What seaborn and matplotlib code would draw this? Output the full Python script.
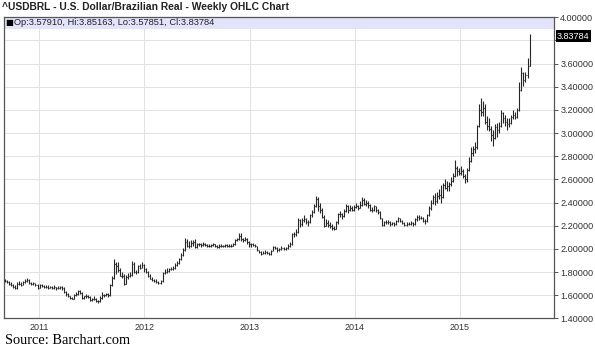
import matplotlib
matplotlib.use("Agg")
import matplotlib.pyplot as plt
import matplotlib.dates as mdates
import matplotlib.transforms as mtransforms
import pandas as pd
import seaborn as sns

# Weekly USD/BRL bars, one entry per week starting 2010-09-06
open_prices = [
    # 2010
    1.735, 1.720, 1.715, 1.700, 1.690, 1.675, 1.660, 1.700, 1.700, 1.690, 1.715, 1.725, 1.735, 1.705, 1.695, 1.705, 1.690,
    # 2011
    1.665, 1.690, 1.680, 1.675, 1.670, 1.665, 1.670, 1.665, 1.670, 1.660, 1.665, 1.670, 1.660,
    1.630, 1.610, 1.590, 1.575, 1.570, 1.600, 1.615, 1.635, 1.620, 1.580, 1.590, 1.595, 1.585,
    1.560, 1.565, 1.570, 1.555, 1.550, 1.575, 1.605, 1.600, 1.610, 1.600, 1.690, 1.750, 1.870,
    1.850, 1.820, 1.770, 1.765, 1.700, 1.760, 1.770, 1.775, 1.870, 1.800, 1.800, 1.850, 1.840,
    # 2012
    1.865, 1.830, 1.800, 1.770, 1.745, 1.735, 1.720, 1.715, 1.710, 1.720, 1.790, 1.800, 1.810,
    1.825, 1.830, 1.835, 1.860, 1.880, 1.910, 1.950, 1.990, 2.060, 2.030, 2.030, 2.050, 2.060,
    2.020, 2.040, 2.040, 2.035, 2.045, 2.035, 2.030, 2.030, 2.035, 2.040, 2.025, 2.020, 2.030,
    2.030, 2.025, 2.035, 2.030, 2.030, 2.030, 2.040, 2.075, 2.085, 2.110, 2.085, 2.075, 2.090, 2.060,
    # 2013
    2.040, 2.040, 2.035, 2.025, 1.990, 1.975, 1.960, 1.965, 1.975, 1.965, 1.955, 1.985,
    2.015, 2.010, 1.990, 2.000, 2.010, 2.000, 2.005, 2.025, 2.040, 2.130, 2.130, 2.150, 2.250,
    2.220, 2.250, 2.260, 2.235, 2.230, 2.290, 2.320, 2.370, 2.430, 2.370, 2.340, 2.280, 2.200, 2.225,
    2.205, 2.200, 2.185, 2.175, 2.230, 2.300, 2.300, 2.285, 2.330, 2.370, 2.340, 2.350, 2.340,
    # 2014
    2.360, 2.370, 2.355, 2.380, 2.420, 2.390, 2.400, 2.380, 2.340, 2.340, 2.370, 2.340, 2.320,
    2.265, 2.210, 2.235, 2.235, 2.230, 2.215, 2.225, 2.215, 2.240, 2.265, 2.240, 2.225, 2.205,
    2.215, 2.220, 2.225, 2.215, 2.255, 2.280, 2.265, 2.270, 2.240, 2.240, 2.290, 2.350, 2.400,
    2.450, 2.410, 2.460, 2.470, 2.450, 2.550, 2.530, 2.540, 2.560, 2.590, 2.630, 2.700, 2.670,
    # 2015
    2.660, 2.670, 2.630, 2.600, 2.680, 2.760, 2.830, 2.860, 2.880, 3.060, 3.200, 3.180, 3.220,
    3.100, 3.060, 3.040, 2.980, 2.960, 3.050, 3.030, 3.060, 3.170, 3.130, 3.100, 3.080, 3.090,
    3.140, 3.160, 3.140, 3.200, 3.370, 3.520, 3.460, 3.500, 3.57910,
]
high_prices = [
    # 2010
    1.745, 1.735, 1.722, 1.712, 1.695, 1.690, 1.712, 1.722, 1.715, 1.725, 1.738, 1.748, 1.742, 1.712, 1.718, 1.710, 1.698,
    # 2011
    1.698, 1.702, 1.688, 1.690, 1.685, 1.682, 1.680, 1.685, 1.675, 1.680, 1.682, 1.678, 1.668,
    1.638, 1.622, 1.598, 1.588, 1.612, 1.625, 1.645, 1.642, 1.625, 1.598, 1.608, 1.602, 1.590,
    1.575, 1.592, 1.575, 1.562, 1.592, 1.625, 1.612, 1.622, 1.618, 1.700, 1.765, 1.915, 1.885,
    1.888, 1.840, 1.805, 1.780, 1.775, 1.795, 1.800, 1.895, 1.885, 1.815, 1.865, 1.870, 1.885,
    # 2012
    1.870, 1.838, 1.808, 1.780, 1.755, 1.745, 1.738, 1.722, 1.735, 1.800, 1.825, 1.835, 1.840,
    1.845, 1.850, 1.875, 1.900, 1.925, 1.965, 2.010, 2.095, 2.090, 2.065, 2.075, 2.080, 2.085,
    2.050, 2.055, 2.050, 2.060, 2.055, 2.045, 2.040, 2.045, 2.050, 2.045, 2.035, 2.040, 2.040,
    2.038, 2.045, 2.040, 2.040, 2.040, 2.055, 2.085, 2.095, 2.140, 2.135, 2.095, 2.100, 2.095, 2.070,
    # 2013
    2.055, 2.050, 2.045, 2.030, 1.995, 1.985, 1.985, 1.990, 1.985, 1.975, 1.995, 2.025,
    2.030, 2.015, 2.010, 2.025, 2.015, 2.020, 2.040, 2.060, 2.140, 2.150, 2.170, 2.270, 2.260,
    2.265, 2.290, 2.270, 2.250, 2.300, 2.340, 2.390, 2.455, 2.445, 2.400, 2.350, 2.290, 2.260, 2.250,
    2.230, 2.215, 2.200, 2.245, 2.315, 2.330, 2.315, 2.345, 2.385, 2.380, 2.380, 2.375, 2.380,
    # 2014
    2.395, 2.380, 2.410, 2.445, 2.440, 2.420, 2.410, 2.390, 2.360, 2.380, 2.375, 2.345, 2.330,
    2.270, 2.245, 2.250, 2.250, 2.240, 2.235, 2.230, 2.250, 2.275, 2.270, 2.250, 2.235, 2.230,
    2.235, 2.240, 2.235, 2.265, 2.295, 2.290, 2.285, 2.280, 2.255, 2.300, 2.370, 2.420, 2.470,
    2.480, 2.490, 2.520, 2.550, 2.570, 2.600, 2.590, 2.580, 2.620, 2.660, 2.770, 2.720, 2.700,
    # 2015
    2.720, 2.690, 2.650, 2.700, 2.790, 2.880, 2.890, 2.920, 3.070, 3.250, 3.300, 3.280, 3.250,
    3.150, 3.130, 3.060, 3.030, 3.080, 3.090, 3.100, 3.200, 3.180, 3.160, 3.130, 3.130, 3.160,
    3.200, 3.180, 3.220, 3.440, 3.570, 3.530, 3.530, 3.650, 3.85163,
]
low_prices = [
    # 2010
    1.712, 1.705, 1.690, 1.680, 1.665, 1.652, 1.655, 1.690, 1.680, 1.688, 1.705, 1.712, 1.695, 1.685, 1.690, 1.682, 1.655,
    # 2011
    1.660, 1.672, 1.665, 1.662, 1.658, 1.660, 1.655, 1.658, 1.650, 1.652, 1.655, 1.648, 1.622,
    1.595, 1.582, 1.565, 1.565, 1.568, 1.595, 1.605, 1.612, 1.572, 1.570, 1.580, 1.575, 1.555,
    1.550, 1.558, 1.545, 1.535, 1.545, 1.570, 1.582, 1.592, 1.585, 1.598, 1.680, 1.745, 1.780,
    1.800, 1.765, 1.750, 1.690, 1.695, 1.740, 1.755, 1.770, 1.790, 1.785, 1.795, 1.830, 1.835,
    # 2012
    1.800, 1.790, 1.762, 1.738, 1.725, 1.712, 1.705, 1.700, 1.702, 1.715, 1.780, 1.795, 1.800,
    1.815, 1.820, 1.830, 1.855, 1.870, 1.905, 1.940, 1.985, 2.015, 2.005, 2.020, 2.030, 2.010,
    2.005, 2.025, 2.020, 2.030, 2.025, 2.015, 2.020, 2.020, 2.025, 2.015, 2.005, 2.010, 2.020,
    2.015, 2.020, 2.020, 2.020, 2.020, 2.025, 2.035, 2.065, 2.080, 2.070, 2.060, 2.065, 2.045, 2.020,
    # 2013
    2.020, 2.025, 2.015, 1.980, 1.965, 1.950, 1.955, 1.960, 1.955, 1.945, 1.950, 1.980,
    2.000, 1.975, 1.980, 1.995, 1.990, 1.995, 2.000, 2.015, 2.035, 2.100, 2.110, 2.140, 2.190,
    2.200, 2.235, 2.220, 2.200, 2.225, 2.280, 2.310, 2.360, 2.330, 2.310, 2.270, 2.190, 2.195, 2.190,
    2.180, 2.165, 2.160, 2.170, 2.220, 2.280, 2.260, 2.280, 2.320, 2.315, 2.330, 2.330, 2.330,
    # 2014
    2.350, 2.340, 2.350, 2.370, 2.380, 2.370, 2.355, 2.330, 2.320, 2.330, 2.320, 2.300, 2.255,
    2.195, 2.200, 2.215, 2.215, 2.200, 2.205, 2.200, 2.210, 2.230, 2.230, 2.215, 2.195, 2.200,
    2.205, 2.210, 2.200, 2.210, 2.245, 2.250, 2.255, 2.230, 2.220, 2.235, 2.285, 2.340, 2.390,
    2.380, 2.400, 2.430, 2.400, 2.440, 2.520, 2.500, 2.500, 2.540, 2.575, 2.620, 2.630, 2.640,
    # 2015
    2.640, 2.610, 2.570, 2.580, 2.670, 2.750, 2.800, 2.830, 2.860, 3.050, 3.150, 3.150, 3.080,
    3.030, 3.020, 2.930, 2.890, 2.950, 2.970, 3.000, 3.050, 3.090, 3.060, 3.030, 3.050, 3.080,
    3.120, 3.120, 3.130, 3.190, 3.360, 3.410, 3.440, 3.480, 3.57851,
]
close_prices = [
    # 2010
    1.720, 1.715, 1.700, 1.690, 1.675, 1.660, 1.700, 1.700, 1.690, 1.715, 1.725, 1.735, 1.705, 1.695, 1.705, 1.690, 1.665,
    # 2011
    1.690, 1.680, 1.675, 1.670, 1.665, 1.670, 1.665, 1.670, 1.660, 1.665, 1.670, 1.660, 1.630,
    1.610, 1.590, 1.575, 1.570, 1.600, 1.615, 1.635, 1.620, 1.580, 1.590, 1.595, 1.585, 1.560,
    1.565, 1.570, 1.555, 1.550, 1.575, 1.605, 1.600, 1.610, 1.600, 1.690, 1.750, 1.870, 1.850,
    1.820, 1.770, 1.765, 1.700, 1.760, 1.770, 1.775, 1.870, 1.800, 1.800, 1.850, 1.840, 1.865,
    # 2012
    1.830, 1.800, 1.770, 1.745, 1.735, 1.720, 1.715, 1.710, 1.720, 1.790, 1.800, 1.810, 1.825,
    1.830, 1.835, 1.860, 1.880, 1.910, 1.950, 1.990, 2.060, 2.030, 2.030, 2.050, 2.060, 2.020,
    2.040, 2.040, 2.035, 2.045, 2.035, 2.030, 2.030, 2.035, 2.040, 2.025, 2.020, 2.030, 2.030,
    2.025, 2.035, 2.030, 2.030, 2.030, 2.040, 2.075, 2.085, 2.110, 2.085, 2.075, 2.090, 2.060, 2.040,
    # 2013
    2.040, 2.035, 2.025, 1.990, 1.975, 1.960, 1.965, 1.975, 1.965, 1.955, 1.985, 2.015,
    2.010, 1.990, 2.000, 2.010, 2.000, 2.005, 2.025, 2.040, 2.130, 2.130, 2.150, 2.250, 2.220,
    2.250, 2.260, 2.235, 2.230, 2.290, 2.320, 2.370, 2.430, 2.370, 2.340, 2.280, 2.200, 2.225, 2.205,
    2.200, 2.185, 2.175, 2.230, 2.300, 2.300, 2.285, 2.330, 2.370, 2.340, 2.350, 2.340, 2.360,
    # 2014
    2.370, 2.355, 2.380, 2.420, 2.390, 2.400, 2.380, 2.340, 2.340, 2.370, 2.340, 2.320, 2.265,
    2.210, 2.235, 2.235, 2.230, 2.215, 2.225, 2.215, 2.240, 2.265, 2.240, 2.225, 2.205, 2.215,
    2.220, 2.225, 2.215, 2.255, 2.280, 2.265, 2.270, 2.240, 2.240, 2.290, 2.350, 2.400, 2.450,
    2.410, 2.460, 2.470, 2.450, 2.550, 2.530, 2.540, 2.560, 2.590, 2.630, 2.700, 2.670, 2.660,
    # 2015
    2.670, 2.630, 2.600, 2.680, 2.760, 2.830, 2.860, 2.880, 3.060, 3.200, 3.180, 3.220, 3.100,
    3.060, 3.040, 2.980, 2.960, 3.050, 3.030, 3.060, 3.170, 3.130, 3.100, 3.080, 3.090, 3.140,
    3.160, 3.140, 3.200, 3.370, 3.520, 3.460, 3.500, 3.57910, 3.83784,
]

first_week = "2010-09-06"
year_labels = ["2011", "2012", "2013", "2014", "2015"]
price_ticks = [1.4, 1.6, 1.8, 2.0, 2.2, 2.4, 2.6, 2.8, 3.0, 3.2, 3.4, 3.6, 3.8, 4.0]

title_text = "^USDBRL - U.S. Dollar/Brazilian Real - Weekly OHLC Chart"
source_text = "Source: Barchart.com"

sns.set_theme(style="white", rc={
    "axes.edgecolor": "#555555",
    "axes.linewidth": 0.9,
    "grid.color": "#e2e2e2",
    "grid.linewidth": 0.7,
})
plt.rcParams["font.family"] = ["Liberation Sans", "DejaVu Sans"]

bars = pd.DataFrame({
    "week": pd.date_range(first_week, periods=len(close_prices), freq="W-MON"),
    "open": open_prices,
    "high": high_prices,
    "low": low_prices,
    "close": close_prices,
})
bars["x"] = mdates.date2num(bars["week"])

fig = plt.figure(figsize=(5.95, 3.49), dpi=100)
ax = fig.add_axes([0.0059, 0.0874, 0.9252, 0.8630])

ink = "#262626"
tick_len = 2.6  # days
ax.vlines(bars["x"], bars["low"], bars["high"], color=ink, lw=0.8, zorder=3)
ax.hlines(bars["open"], bars["x"] - tick_len, bars["x"], color=ink, lw=0.8, zorder=3)
ax.hlines(bars["close"], bars["x"], bars["x"] + tick_len, color=ink, lw=0.8, zorder=3)

ax.set_xlim(mdates.date2num(pd.Timestamp("2010-08-31")),
            mdates.date2num(pd.Timestamp("2015-11-24")))
ax.set_ylim(1.4, 4.0)

# header strip with the latest bar's values
ax.axhspan(3.9, 4.0, color="#e3e3fb", lw=0, zorder=1.5)
strip = mtransforms.blended_transform_factory(ax.transAxes, ax.transData)
ax.text(0.0035, 3.951, "\u25a0", transform=strip, fontsize=6, va="center",
        ha="left", color="black", zorder=4, family=["DejaVu Sans"])
ax.text(0.0185, 3.951,
        f"Op:{open_prices[-1]:.5f}, Hi:{high_prices[-1]:.5f}, "
        f"Lo:{low_prices[-1]:.5f}, Cl:{close_prices[-1]:.5f}",
        transform=strip, fontsize=6.7, va="center", ha="left", color="#222222", zorder=4)

# x axis: year boundaries
year_pos = [mdates.date2num(pd.Timestamp(f"{y}-01-01")) for y in year_labels]
ax.set_xticks(year_pos)
ax.set_xticklabels(year_labels)
ax.tick_params(axis="x", length=0, labelsize=6.5, pad=3.2, colors="#333333")

# y axis on the right
ax.yaxis.tick_right()
ax.set_yticks(price_ticks)
ax.set_yticklabels(["" if abs(v - 3.8) < 1e-9 else f"{v:.5f}" for v in price_ticks])
ax.tick_params(axis="y", direction="out", length=3, width=0.7, color="#555555",
               labelsize=6.6, pad=1.5, labelcolor="#333333")

ax.grid(True, zorder=0)
ax.set_axisbelow(True)

# last-price tag
ax.text(1.0055, close_prices[-1], f"{close_prices[-1]:.5f}", transform=strip,
        fontsize=6.6, va="center", ha="left", color="white", zorder=5, clip_on=False,
        bbox=dict(facecolor="black", edgecolor="none", pad=0.9))

fig.text(0.004, 0.980, title_text, fontsize=7.35, fontweight="bold", color="#222222",
         va="center", ha="left")
fig.text(0.008, 0.023, source_text, fontsize=10.4, family=["Liberation Serif"],
         color="black", va="center", ha="left")

fig.savefig("out.png", dpi=100)
